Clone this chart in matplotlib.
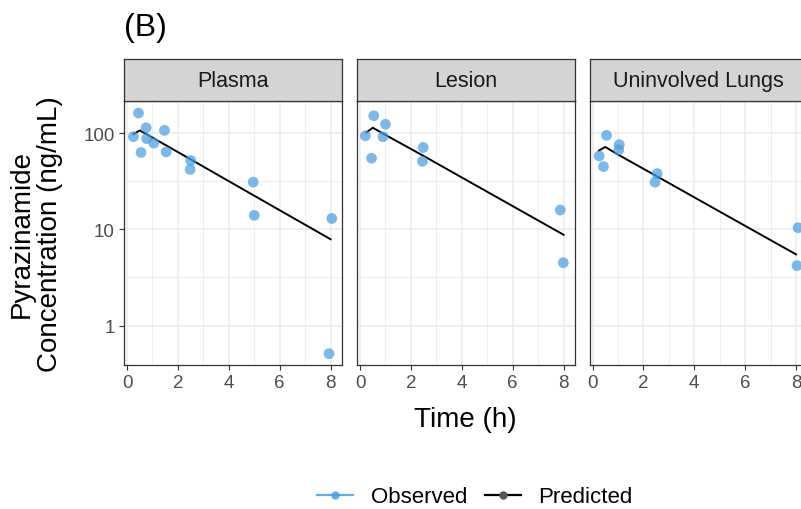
import numpy as np
import matplotlib
matplotlib.use("Agg")
import matplotlib.pyplot as plt
from matplotlib.lines import Line2D
from matplotlib.ticker import FixedLocator, NullFormatter

plt.rcParams["font.family"] = ["Liberation Sans", "DejaVu Sans"]

# Tissue compartments (facets)
tissues = ["Plasma", "Lesion", "Uninvolved Lungs"]

# Observed concentrations (ng/mL) per tissue
obs_time_plasma = [0.45, 0.25, 0.75, 0.77, 1.05, 0.55, 1.47, 1.54, 2.5, 2.48, 4.96, 5.0, 8.05, 7.94]
obs_conc_plasma = [162, 92, 114, 88, 79, 63, 107, 64, 52, 42, 31, 14, 13, 0.51]

obs_time_lesion = [0.54, 1.0, 0.21, 0.9, 0.45, 2.48, 2.45, 7.87, 7.99]
obs_conc_lesion = [152, 124, 94, 92, 55, 71, 51, 15.9, 4.5]

obs_time_lungs = [0.55, 1.05, 1.03, 0.26, 0.43, 2.54, 2.46, 8.08, 8.04]
obs_conc_lungs = [95, 76, 67, 58, 45, 38, 31, 10.4, 4.2]

# Model-predicted concentrations (ng/mL)
pred_time = [0.25, 0.5, 1, 2.5, 5, 8]
pred_conc_plasma = [98, 107, 90, 53.5, 22.4, 7.9]
pred_conc_lesion = [102, 114, 96, 58, 24.6, 8.8]
pred_conc_lungs = [66, 72, 60, 36, 15.3, 5.5]

obs_time = [obs_time_plasma, obs_time_lesion, obs_time_lungs]
obs_conc = [obs_conc_plasma, obs_conc_lesion, obs_conc_lungs]
pred_conc = [pred_conc_plasma, pred_conc_lesion, pred_conc_lungs]

obs_color = "#4A9DE0"
grid_color = "#EBEBEB"
frame_color = "#333333"
tick_color = "#4D4D4D"

W, H = 801, 510
fig = plt.figure(figsize=(W / 100, H / 100), dpi=100)

panel_left = [124, 357, 589.5]
panel_w = 218
panel_top, panel_bottom = 102, 366
strip_top = 60


def fig_box(x0, y_top, w, h):
    return [x0 / W, 1 - (y_top + h) / H, w / W, h / H]


for i, name in enumerate(tissues):
    ax = fig.add_axes(fig_box(panel_left[i], panel_top, panel_w, panel_bottom - panel_top))
    ax.set_yscale("log")
    ax.set_xlim(-0.12, 8.45)
    ax.set_ylim(10 ** -0.41, 10 ** 2.335)

    ax.xaxis.set_major_locator(FixedLocator([0, 2, 4, 6, 8]))
    ax.xaxis.set_minor_locator(FixedLocator([1, 3, 5, 7]))
    ax.yaxis.set_major_locator(FixedLocator([1, 10, 100]))
    ax.yaxis.set_minor_locator(FixedLocator([10 ** 0.5, 10 ** 1.5]))
    ax.yaxis.set_minor_formatter(NullFormatter())
    ax.grid(which="major", color=grid_color, linewidth=1.1)
    ax.grid(which="minor", color=grid_color, linewidth=0.6)
    ax.set_axisbelow(True)

    ax.tick_params(which="minor", length=0)
    ax.tick_params(which="major", direction="out", length=3.5, width=0.8,
                   color=frame_color, labelcolor=tick_color, labelsize=13.5, pad=3)
    if i == 0:
        ax.set_yticklabels(["1", "10", "100"])
    else:
        ax.tick_params(axis="y", left=False, labelleft=False)

    for s in ax.spines.values():
        s.set_color(frame_color)
        s.set_linewidth(0.9)

    ax.plot(pred_time, pred_conc[i], color="black", linewidth=1.4, zorder=3)
    ax.scatter(obs_time[i], obs_conc[i], s=60, color=obs_color, alpha=0.72,
               edgecolors="none", zorder=4, clip_on=False)

    # facet strip
    sax = fig.add_axes(fig_box(panel_left[i], strip_top, panel_w, panel_top - strip_top))
    sax.set_facecolor("#D3D4D3")
    sax.set_xticks([])
    sax.set_yticks([])
    for s in sax.spines.values():
        s.set_color(frame_color)
        s.set_linewidth(0.9)
    sax.text(0.5, 0.48, name, ha="center", va="center", fontsize=15.5,
             color="#1A1A1A", transform=sax.transAxes)

fig.text(124 / W, 1 - 28 / H, "(B)", fontsize=23, ha="left", va="center")
fig.text(465 / W, 1 - 420 / H, "Time (h)", fontsize=20, ha="center", va="center")
fig.text(36 / W, 1 - 234 / H, "Pyrazinamide\nConcentration (ng/mL)", fontsize=20,
         rotation=90, ha="center", va="center", linespacing=1.1)

handles = [
    Line2D([], [], color=obs_color, alpha=0.85, linewidth=1.6, marker="o", markersize=6,
           markeredgewidth=0),
    Line2D([], [], color="black", linewidth=1.6, marker="o", markersize=6,
           markerfacecolor="#555555", markeredgewidth=0),
]
fig.legend(handles, ["Observed", "Predicted"], loc="center", ncol=2,
           bbox_to_anchor=(475 / W, 1 - 498 / H), frameon=False, fontsize=16,
           handlelength=1.6, handletextpad=0.8, columnspacing=0.8)

fig.savefig("out.png", dpi=100)
